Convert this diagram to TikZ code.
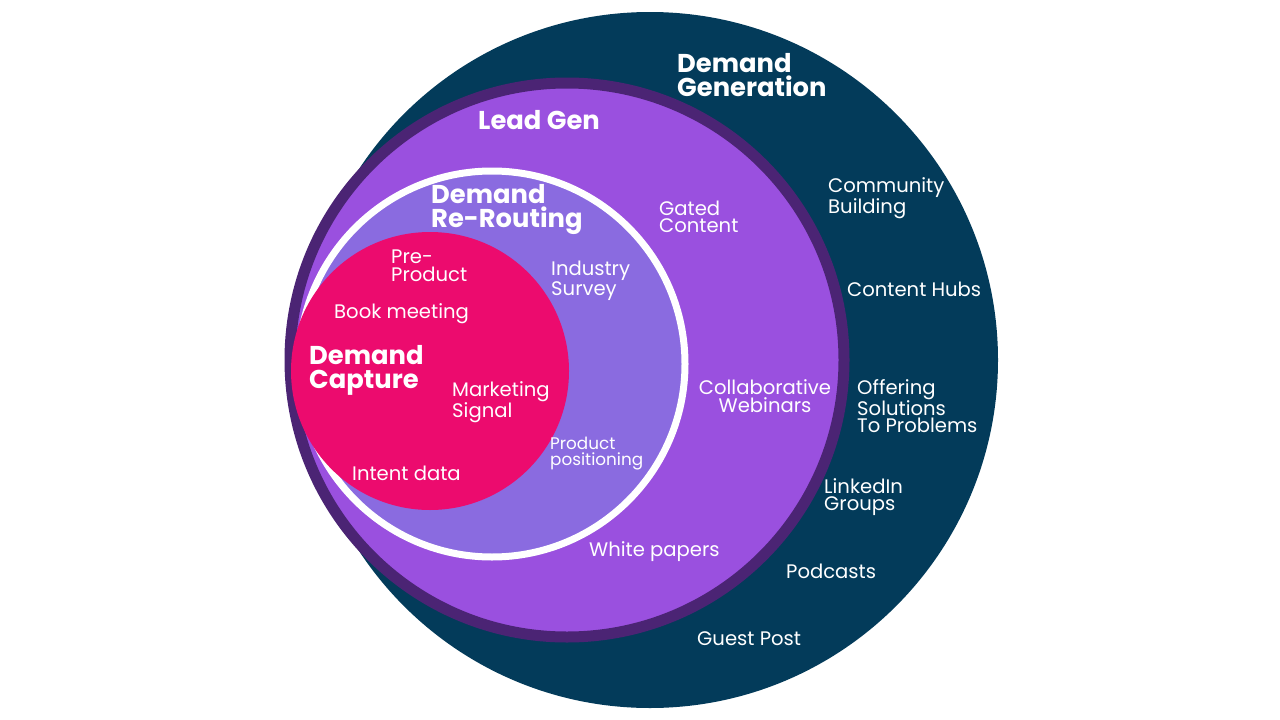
\documentclass[tikz,border=0pt]{standalone}
\usepackage{fontspec}
\setmainfont{Poppins}
\usetikzlibrary{positioning}
\definecolor{dgblue}{HTML}{033B5A}
\definecolor{lgring}{HTML}{4B2474}
\definecolor{lgfill}{HTML}{9A50DF}
\definecolor{rrfill}{HTML}{8A6BE0}
\definecolor{dcpink}{HTML}{EC0B6E}
\tikzset{
  lbl/.style={text=white, anchor=west, align=left, inner sep=0pt, font=\fontsize{19.6}{17.5}\selectfont},
  head/.style={lbl, font=\fontsize{25.8}{24}\selectfont\bfseries},
  small/.style={lbl, font=\fontsize{16.8}{16}\selectfont}
}

\begin{document}
\begin{tikzpicture}[x=1pt,y=-1pt]
\useasboundingbox (0,0) rectangle (1280,720);
\coordinate (G) at (650,360);
\coordinate (L) at (567,360);
\coordinate (R) at (492,364);
\coordinate (C) at (430,371);
% circles, outside in
\fill[dgblue] (G) circle (348);
\draw[lgring, line width=11pt, fill=lgfill] (L) circle (277);
\draw[white, line width=7pt, fill=rrfill] (R) circle (193);
\fill[dcpink] (C) circle (139);
% headings
\node[head] (dg) at (677,75) {Demand\\Generation};
\node[head] (lg) at (478,120) {Lead Gen};
\node[head] (rr) at (431,209) {Demand\\Re-Routing};
\node[head] (dc) at (309,370) {Demand\\Capture};
% demand capture
\node[lbl] (pp) at (391,266) {Pre-\\Product};
\node[lbl] (bm) at (334,314) {Book meeting};
\node[lbl] (ms) at (452,402) {Marketing\\Signal};
\node[lbl] (id) at (352,473) {Intent data};
% re-routing
\node[lbl] (is) at (551,281) {Industry\\Survey};
\node[small] (pos) at (550,454) {Product\\positioning};
% lead gen
\node[lbl] (gc) at (659,217) {Gated\\Content};
\node[lbl, anchor=center, align=center] (cw) at (765,396) {Collaborative\\Webinars};
\node[lbl] (wp) at (589,552) {White papers};
% demand generation
\node[lbl] (cb) at (828,198) {Community\\Building};
\node[lbl] (ch) at (847,289) {Content Hubs};
\node[lbl] (os) at (857,406) {Offering\\Solutions\\To Problems};
\node[lbl] (li) at (824,497) {LinkedIn\\Groups};
\node[lbl] (pc) at (786,571) {Podcasts};
\node[lbl] (gp) at (697,639) {Guest Post};
\end{tikzpicture}
\end{document}
